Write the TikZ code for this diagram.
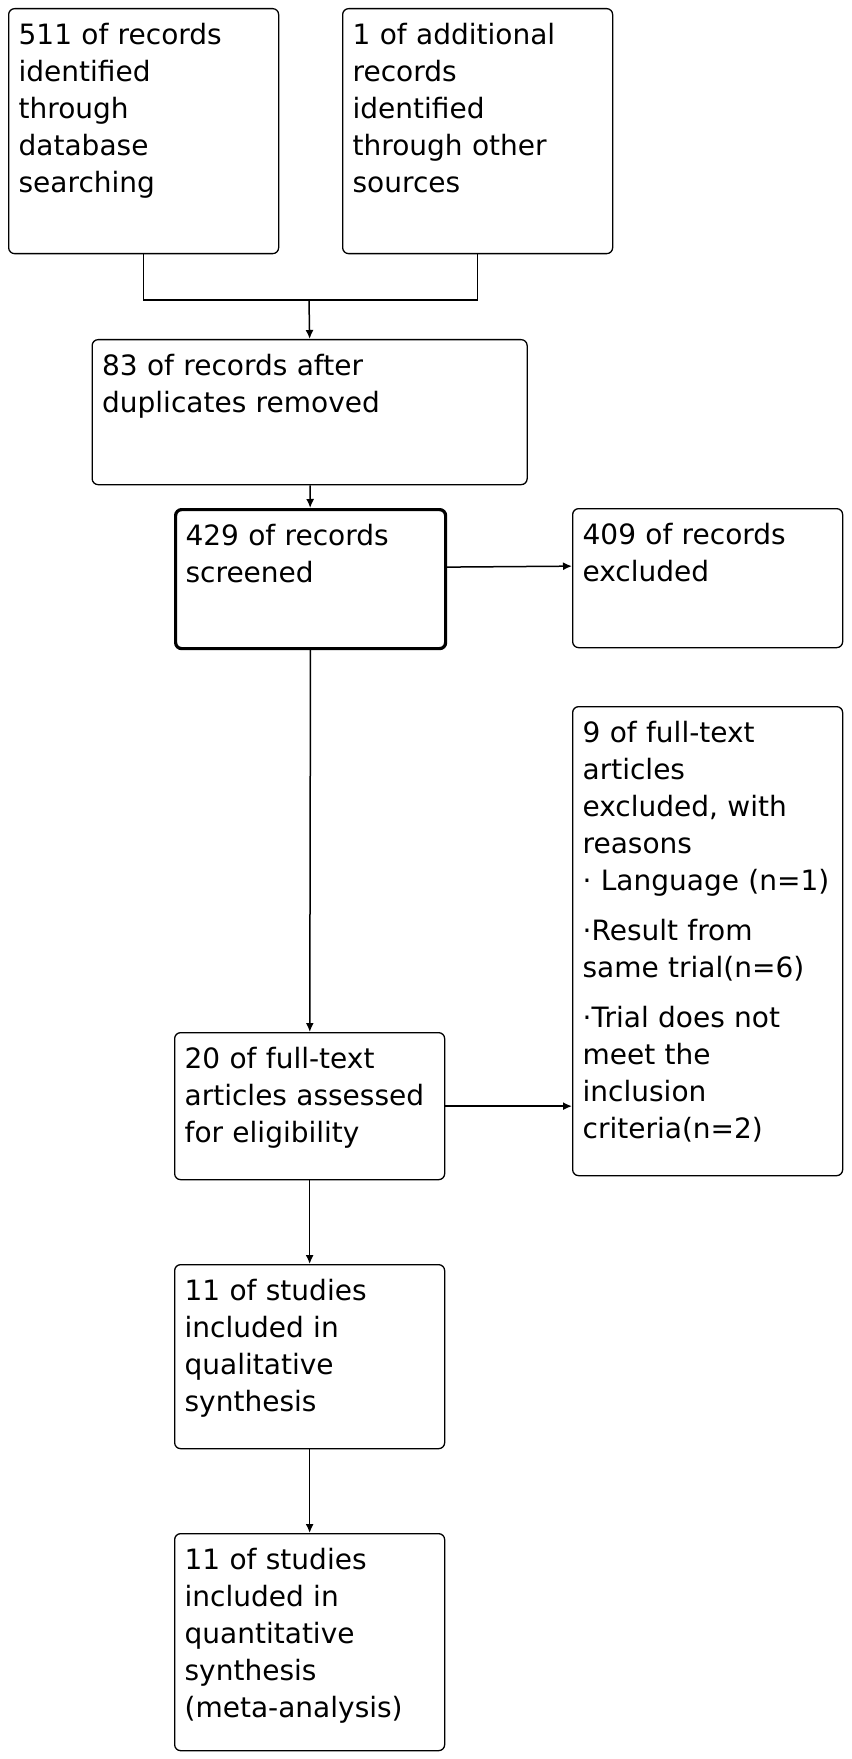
\documentclass[tikz,border=0pt]{standalone}
\usepackage{fontspec}
\setmainfont{DejaVu Sans}
\usetikzlibrary{positioning, arrows.meta}

\newcommand{\flowgap}{8pt}
\tikzset{
  flowbox/.style={draw, line width=0.65pt, rounded corners=3pt, anchor=north west, align=left,
    inner xsep=5pt, inner ysep=5pt, font=\fontsize{14}{18.5}\selectfont,
    execute at begin node=\strut,
    execute at end node={\strut\par\nointerlineskip\vspace{\flowgap}\null}},
  gapbelow/.code={\def\flowgap{#1}},
  smallbox/.style={flowbox, text width=125pt},
  widebox/.style={flowbox, text width=207.5pt},
  flowarrow/.style={-{Latex[length=4.5pt,width=4pt]}, line width=0.75pt},
}

\begin{document}
\begin{tikzpicture}[x=0.5pt, y=-0.5pt]
			\useasboundingbox (0,0) rectangle (851,1759);
			\node[smallbox, gapbelow=20pt] (dbsearch) at (8,8) {511 of records\\identified\\through\\database\\searching};
			\node[smallbox, gapbelow=20pt] (othersrc) at (342,8) {1 of additional\\records\\identified\\through other\\sources};
			\node[widebox, gapbelow=25.5pt] (dedup) at (91.5,339) {83 of records after\\duplicates removed};
			\node[smallbox, gapbelow=22.5pt, line width=1.6pt] (screened) at (174,508) {429 of records\\screened};
			\node[smallbox, gapbelow=22.5pt] (excl) at (572,508) {409 of records\\excluded};
			\node[smallbox] (ftexcl) at (572,706) {9 of full-text\\articles\\excluded, with\\reasons\\· Language (n=1)\\[6.5pt]·Result from\\same trial(n=6)\\[6.5pt]·Trial does not\\meet the\\inclusion\\criteria(n=2)};
			\node[smallbox] (fulltext) at (174,1032) {20 of full-text\\articles assessed\\for eligibility};
			\node[smallbox] (qual) at (174,1264) {11 of studies\\included in\\qualitative\\synthesis};
			\node[smallbox, gapbelow=6pt] (quant) at (174,1533) {11 of studies\\included in\\quantitative\\synthesis\\(meta-analysis)};
			\coordinate (join) at (309,300);
			\draw [line width=0.75pt] (dbsearch.south) |- (join) -| (othersrc.south);
			\draw [flowarrow] (join) -- (dedup.north);
			\draw [flowarrow] (dedup) -- (screened);
			\draw [flowarrow] ([yshift=6pt]screened.east) -- ([yshift=6pt]excl.west);
			\draw [flowarrow] (screened) -- (fulltext);
			\draw [flowarrow] (fulltext.east) -- (fulltext.east -| ftexcl.west);
			\draw [flowarrow] (fulltext) -- (qual);
			\draw [flowarrow] (qual) -- (quant);
		\end{tikzpicture}
\end{document}
